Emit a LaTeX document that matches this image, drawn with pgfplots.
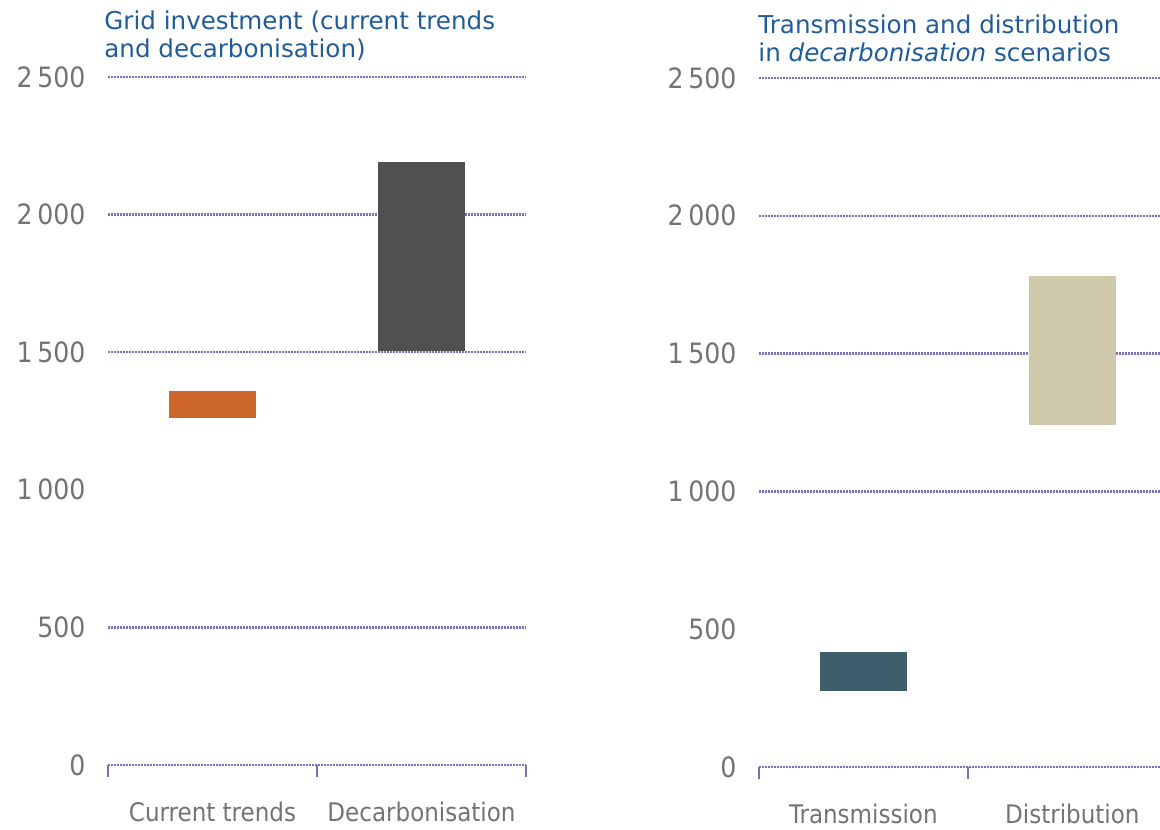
\documentclass[border=0pt]{standalone}
\usepackage{pgfplots}
\pgfplotsset{compat=1.18}
\usepackage{pgfplotstable}
\usepackage{fontspec}
\setmainfont{DejaVu Sans}
\newfontfamily\tickfont{DejaVu Sans Condensed}

\definecolor{titleblue}{HTML}{1F5C99}
\definecolor{ticklabgray}{HTML}{737373}
\definecolor{gridpurple}{HTML}{7B6FBB}
\definecolor{trendorange}{HTML}{CC6629}
\definecolor{decarbgray}{HTML}{505050}
\definecolor{transteal}{HTML}{3F5E6B}
\definecolor{distbeige}{HTML}{CEC9AA}

% Investment ranges: lower and upper end of each bar
\pgfplotstableread{
x   low   high
0.5 1260  1360
1.5 1505  2190
}\gridinvest

\pgfplotstableread{
x   low   high
0.5 275   418
1.5 1240  1780
}\tdinvest

\pgfplotsset{
  rangepanel/.style={
    scale only axis,
    ybar stacked,
    bar width=43.5pt,
    ymin=0, ymax=2500,
    ytick={0,500,1000,1500,2000,2500},
    xtick={0.5,1.5},
    minor xtick={0,1,2},
    axis line style={draw=none},
    major tick style={draw=none},
    minor tick style={draw=gridpurple, line width=0.8pt},
    minor tick length=6pt,
    tick align=outside,
    xtick pos=bottom,
    ytick pos=left,
    /pgf/number format/.cd, 1000 sep={\,}, assume math mode=true,
    /pgfplots/.cd,
    yticklabel style={font=\tickfont\fontsize{14}{16}\selectfont, text=ticklabgray, xshift=-3.5pt},
    xticklabel style={font=\tickfont\fontsize{12.8}{15}\selectfont, text=ticklabgray, yshift=-10.5pt},
    extra y tick style={grid=major, major tick style={draw=none}},
    extra y tick labels={},
    major grid style={draw=gridpurple, line width=1.2pt, dash pattern=on 0.8pt off 0.7pt},
    title style={at={(rel axis cs:0,1)}, anchor=south west, inner sep=0pt,
      align=left, text=titleblue, font=\fontsize{12.3}{14}\selectfont,
      yshift=2pt},
  }
}

\begin{document}
\begin{tikzpicture}
\useasboundingbox (0,0) rectangle (580pt,414.5pt);

\begin{axis}[rangepanel,
  at={(54pt,32pt)}, anchor=south west,
  width=209pt, height=344pt,
  xmin=0, xmax=2,
  xticklabels={Current trends, Decarbonisation},
  extra y ticks={0,500,1500,2000,2500},
  title={Grid investment (current trends\\and decarbonisation)},
  title style={xshift=-2pt},
]
\addplot[draw=none, fill=none] table[x=x, y=low] {\gridinvest};
\addplot[draw=none, fill=trendorange] table[x=x,
  y expr={ifthenelse(\coordindex==0, \thisrow{high}-\thisrow{low}, 0)}] {\gridinvest};
\addplot[draw=none, fill=decarbgray] table[x=x,
  y expr={ifthenelse(\coordindex==1, \thisrow{high}-\thisrow{low}, 0)}] {\gridinvest};
\end{axis}

\begin{axis}[rangepanel,
  at={(379.5pt,31pt)}, anchor=south west,
  width=200.5pt, height=344.5pt,
  xmin=0, xmax=1.92,
  xticklabels={Transmission, Distribution},
  extra y ticks={0,1000,1500,2000,2500},
  title={Transmission and distribution\\in \textit{decarbonisation} scenarios},
  title style={xshift=-0.5pt},
]
\addplot[draw=none, fill=none] table[x=x, y=low] {\tdinvest};
\addplot[draw=none, fill=transteal] table[x=x,
  y expr={ifthenelse(\coordindex==0, \thisrow{high}-\thisrow{low}, 0)}] {\tdinvest};
\addplot[draw=none, fill=distbeige] table[x=x,
  y expr={ifthenelse(\coordindex==1, \thisrow{high}-\thisrow{low}, 0)}] {\tdinvest};
\end{axis}
\end{tikzpicture}
\end{document}
